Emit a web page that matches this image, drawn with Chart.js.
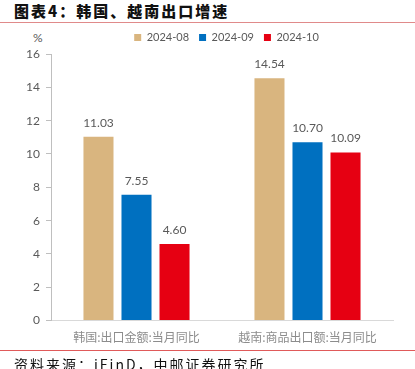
<!DOCTYPE html>
<html><head><meta charset="utf-8">
<script src="https://cdn.jsdelivr.net/npm/chart.js@4"></script>
<style>
html,body{margin:0;padding:0;background:#fff;}
#wrap{position:relative;width:415px;height:369px;overflow:hidden;}
#title{position:absolute;left:14px;top:0px;font-family:"Noto Sans CJK SC";font-weight:900;font-size:15px;color:#111;letter-spacing:2px;}
#line1{position:absolute;left:0;top:22px;width:415px;height:1px;background:#e08a8a;}
#line2{position:absolute;left:0;top:350px;width:415px;height:1px;background:#e05a5a;}
#foot{position:absolute;left:14px;top:354px;font-family:"Noto Sans CJK SC";font-size:14px;color:#111;letter-spacing:2px;}
#pct{position:absolute;left:33px;top:30px;font-family:Lato;font-size:12px;color:#595959;}
#cv{position:absolute;left:0;top:23px;}
</style></head>
<body><div id="wrap">
<div id="title">图表4：韩国、越南出口增速</div>
<div id="line1"></div>
<div id="pct">%</div>
<canvas id="cv" width="415" height="332"></canvas>
<div id="line2"></div>
<div id="foot">资料来源：iFinD，中邮证券研究所</div>
</div>
<script>
const categories = ["韩国:出口金额:当月同比", "越南:商品出口额:当月同比"];
const seriesNames = ["2024-08", "2024-09", "2024-10"];
const s202408 = [11.03, 14.54];
const s202409 = [7.55, 10.70];
const s202410 = [4.60, 10.09];
const yTicks = [0, 2, 4, 6, 8, 10, 12, 14, 16];
const colors = ["#D9B57F", "#0070C0", "#E60012"];

const labelPlugin = {
  id: 'valLabels',
  afterDatasetsDraw(chart) {
    const ctx = chart.ctx;
    ctx.save();
    ctx.font = '12px Lato';
    ctx.fillStyle = '#595959';
    ctx.textAlign = 'center';
    ctx.textBaseline = 'bottom';
    chart.data.datasets.forEach((ds, i) => {
      chart.getDatasetMeta(i).data.forEach((bar, j) => {
        ctx.fillText(ds.data[j].toFixed(2), bar.x, bar.y - 8);
      });
    });
    ctx.restore();
  }
};

const legendShift = {
  id: 'legendShift',
  beforeDraw(chart) {
    const lg = chart.legend;
    if (lg && !lg._shifted) {
      lg.left += 30; lg.right += 30; lg.top -= 1;
      lg._shifted = true;
    }
  }
};

new Chart(document.getElementById('cv'), {
  type: 'bar',
  data: {
    labels: categories,
    datasets: [
      {label: seriesNames[0], data: s202408, backgroundColor: colors[0]},
      {label: seriesNames[1], data: s202409, backgroundColor: colors[1]},
      {label: seriesNames[2], data: s202410, backgroundColor: colors[2]}
    ]
  },
  options: {
    responsive: false,
    animation: false,
    devicePixelRatio: 1,
    categoryPercentage: 0.667,
    barPercentage: 0.79,
    layout: {padding: {left: 0, right: 22, top: 0, bottom: 0}},
    plugins: {
      legend: {
        display: true,
        position: 'top',
        labels: {boxWidth: 7, boxHeight: 7, font: {family: 'Lato', size: 11}, color: '#595959', padding: 10},
      },
      tooltip: {enabled: false}
    },
    scales: {
      x: {
        grid: {display: false, drawTicks: false},
        border: {color: '#d9d9d9'},
        ticks: {font: {family: '"Noto Sans CJK SC"', size: 12}, color: '#8c8c8c', padding: 10}
      },
      y: {
        min: 0, max: 16,
        afterBuildTicks(axis) { axis.ticks = yTicks.map(v => ({value: v})); },
        afterFit(axis) { axis.width = 51; },
        grid: {drawOnChartArea: false, drawTicks: true, tickLength: 5, color: '#bfbfbf'},
        border: {color: '#bfbfbf'},
        ticks: {font: {family: 'Lato', size: 12}, color: '#595959', padding: 6}
      }
    }
  },
  plugins: [labelPlugin, legendShift]
});
</script>
</body></html>
